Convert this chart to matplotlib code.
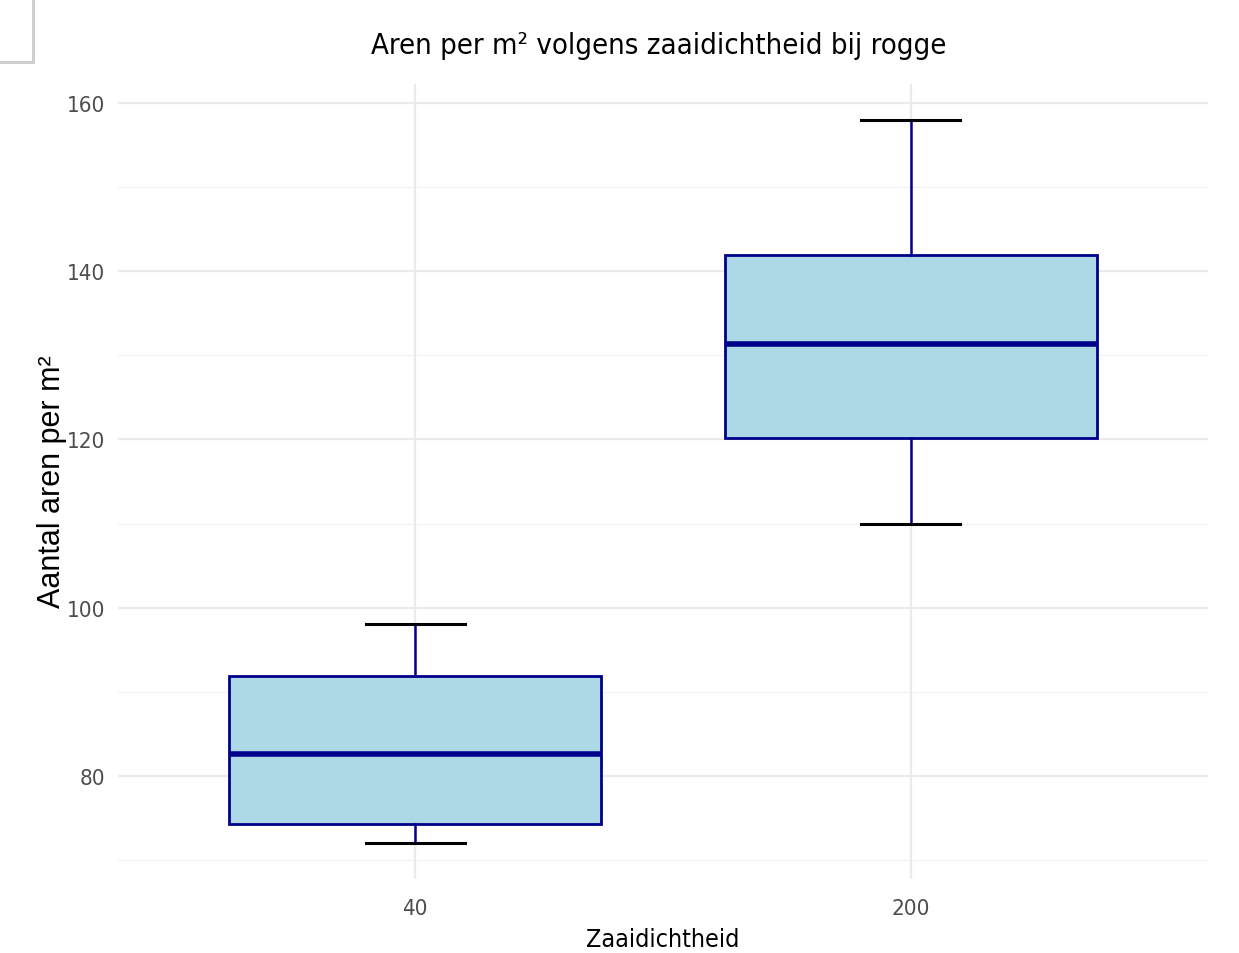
import matplotlib
matplotlib.use("Agg")
import matplotlib.pyplot as plt
from matplotlib.lines import Line2D

# ── data ────────────────────────────────────────────────────────────────
zaaidichtheid = ["40", "200"]
whisker_laag = [72.0, 110.0]
q1 = [74.3, 120.2]
mediaan = [82.6, 131.4]
q3 = [91.9, 141.9]
whisker_hoog = [98.0, 158.0]

y_major = [80, 100, 120, 140, 160]
y_minor = [70, 90, 110, 130, 150]

# smalle letter (zoals in het origineel), gewone letter voor de y-as titel
SMALL = dict(family="DejaVu Sans", fontstretch="condensed")
NORMAL = ["Liberation Sans", "DejaVu Sans"]

fig = plt.figure(figsize=(12.39, 9.54), dpi=100)
ax = fig.add_axes([0.0952, 0.0776, 0.8798, 0.8333])

stats = []
for i, lab in enumerate(zaaidichtheid):
    stats.append({
        "label": lab,
        "whislo": whisker_laag[i],
        "q1": q1[i],
        "med": mediaan[i],
        "q3": q3[i],
        "whishi": whisker_hoog[i],
        "fliers": [],
    })

ax.bxp(
    stats, positions=[1, 2], widths=0.75, capwidths=0.2,
    patch_artist=True, showfliers=False,
    boxprops=dict(facecolor="#ADD8E6", edgecolor="#00008B", lw=2.0),
    medianprops=dict(color="#00008B", lw=4.0, solid_capstyle="butt"),
    whiskerprops=dict(color="#00008B", lw=1.8),
    capprops=dict(color="black", lw=2.2),
    zorder=3,
)

ax.set_xlim(0.4, 2.6)
ax.set_ylim(67.7, 162.3)

# grid (theme_minimal)
for y in y_major:
    ax.axhline(y, color="#EBEBEB", lw=1.6, zorder=0)
for y in y_minor:
    ax.axhline(y, color="#F2F2F2", lw=0.9, zorder=0)
for x in [1, 2]:
    ax.axvline(x, color="#EBEBEB", lw=1.6, zorder=0)

ax.set_yticks(y_major)
ax.set_yticklabels([str(v) for v in y_major], fontsize=16, color="#4D4D4D", **SMALL)
ax.set_xticks([1, 2])
ax.set_xticklabels(zaaidichtheid, fontsize=16, color="#4D4D4D", **SMALL)
ax.tick_params(length=0)
ax.tick_params(axis="y", pad=9)
ax.tick_params(axis="x", pad=14)
for s in ax.spines.values():
    s.set_visible(False)

fig.text(52 / 1239, 1 - 482 / 954, "Aantal aren per m²", family=NORMAL, fontsize=22,
         rotation=90, ha="center", va="center")
fig.text(663 / 1239, 2 / 954, "Zaaidichtheid", fontsize=18,
         ha="center", va="bottom", **SMALL)
fig.text(659 / 1239, 1 - 46 / 954, "Aren per m² volgens zaaidichtheid bij rogge",
         fontsize=21, ha="center", va="center", **SMALL)

# schermafdruk-kader linksboven
fig.add_artist(Line2D([33 / 1239, 33 / 1239], [1, 1 - 63 / 954],
                      transform=fig.transFigure, color="#D0D0D0", lw=2.2))
fig.add_artist(Line2D([0, 33 / 1239], [1 - 63 / 954, 1 - 63 / 954],
                      transform=fig.transFigure, color="#D0D0D0", lw=2.2))

fig.savefig("out.png", dpi=100)
